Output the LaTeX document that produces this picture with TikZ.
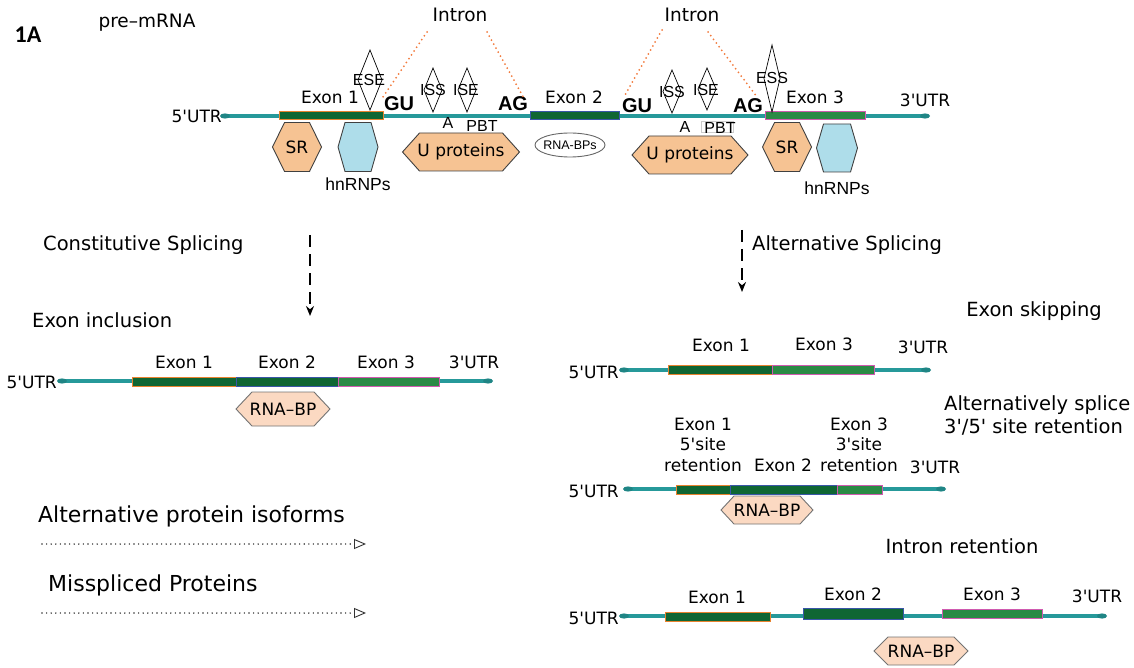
\documentclass[tikz,border=0pt]{standalone}
\usepackage{fontspec}
\setmainfont{DejaVu Sans}
\newfontfamily\arialf{Liberation Sans}
\newfontfamily\calf{Carlito}
\usetikzlibrary{arrows.meta}

\definecolor{rna}{HTML}{26999A}
\definecolor{rnaend}{HTML}{1F8585}
\definecolor{exdark}{HTML}{0F6633}
\definecolor{exlight}{HTML}{2A8A45}
\definecolor{bdorange}{HTML}{E8822E}
\definecolor{bdblue}{HTML}{3A56A8}
\definecolor{bdpink}{HTML}{D05AB0}
\definecolor{peach}{HTML}{F6C393}
\definecolor{peachlt}{HTML}{FBD9C2}
\definecolor{skyb}{HTML}{AEDDEA}
\definecolor{intronor}{HTML}{F27A3C}

% straight apostrophe for the UTR labels
\newcommand\ap{\textquotesingle}

% exon bar: x1, x2, ytop, ybottom, fill, edge colour
\newcommand\exonbar[6]{\draw[draw=#6, fill=#5, line width=1pt] (#1,#3) rectangle (#2,#4);}

% hexagon pointed left and right: name, cx, cy, half width, half height, inset, style
\newcommand\hexshape[7]{%
  \draw[#7] (#2-#4,#3) -- (#2-#4+#6,#3-#5) -- (#2+#4-#6,#3-#5) -- (#2+#4,#3)
    -- (#2+#4-#6,#3+#5) -- (#2-#4+#6,#3+#5) -- cycle;
  \coordinate (#1) at (#2,#3);}

% diamond: name, cx, top, bottom, half width
\newcommand\diamondmark[5]{%
  \draw[line width=0.7pt] (#2,#3) -- (#2+#5,{(#3+#4)/2}) -- (#2,#4) -- (#2-#5,{(#3+#4)/2}) -- cycle;
  \coordinate (#1) at (#2,{(#3+#4)/2});}

% RNA strand with oval ends: name prefix, x1, x2, y
\newcommand\strand[4]{%
  \coordinate (#1a) at (#2,#4); \coordinate (#1b) at (#3,#4);
  \draw[draw=rna, line width=3.5pt] (#1a) -- (#1b);
  \fill[rnaend] (#1a) ellipse (5 and 2.6);
  \fill[rnaend] (#1b) ellipse (5 and 2.6);}

\begin{document}
\begin{tikzpicture}[x=1pt,y=-1pt,
  txt/.style={inner sep=0pt, font=\fontsize{17}{20}\selectfont},
  head/.style={inner sep=0pt, font=\fontsize{19.5}{23}\selectfont},
  iso/.style={inner sep=0pt, anchor=west, font=\fontsize{22}{26}\selectfont},
  ar/.style={inner sep=0pt, font=\arialf\fontsize{16}{19}\selectfont},
  arb/.style={inner sep=0pt, font=\arialf\bfseries\fontsize{20}{24}\selectfont},
  bp/.style={inner sep=0pt, font=\fontsize{17}{20}\selectfont},
  dotline/.style={draw=intronor, line width=2pt, dash pattern=on 0pt off 4.6pt, line cap=round},
  protA/.style={draw=black!75, fill=peach, line width=0.9pt},
  protB/.style={draw=black!75, fill=skyb, line width=0.9pt},
  protC/.style={draw=black!55, fill=peachlt, line width=0.9pt},
  dasharrow/.style={line width=2pt, dash pattern=on 12pt off 7pt, -{Stealth[length=10pt,width=8pt]}},
  isoarrow/.style={draw=black!80, line width=1.6pt, dash pattern=on 0pt off 4.6pt, line cap=round, -{Triangle[open,length=12pt,width=10pt,line width=0.9pt]}},
]
\useasboundingbox (0,0) rectangle (1134,668);

% ---------- title ----------
\node[inner sep=0pt, font=\calf\bfseries\fontsize{24}{28}\selectfont] (fig) at (28,35) {1A};
\node[inner sep=0pt, font=\fontsize{18.5}{22}\selectfont] (pre) at (147,23) {pre–mRNA};

% ---------- pre-mRNA ----------
\strand{p}{225}{925}{116}
\exonbar{279}{383}{112}{120}{exdark}{bdorange}
\exonbar{530}{619}{112}{120}{exdark}{bdblue}
\exonbar{765}{865}{112}{120}{exlight}{bdpink}
\node[txt] (pe1) at (330,97) {Exon 1};
\node[txt] (pe2) at (574,97) {Exon 2};
\node[txt] (pe3) at (815,97) {Exon 3};
\node[txt, anchor=east] (p5) at (222,116) {5\ap UTR};
\node[txt] (p3) at (925,100) {3\ap UTR};

% regulatory elements
\diamondmark{ese}{370}{50}{110}{12}
\diamondmark{iss1}{433}{68}{112}{9}
\diamondmark{ise1}{467}{68}{112}{9}
\diamondmark{iss2}{672}{70}{113}{9}
\diamondmark{ise2}{707}{68}{110}{9}
\diamondmark{ess}{772}{45}{112}{8}
\node[ar] at (369,80) {ESE};
\node[ar] at (433,90) {ISS};
\node[ar] at (466,90) {ISE};
\node[ar] at (672,92) {ISS};
\node[ar] at (706,90) {ISE};
\node[ar] at (772,78) {ESS};

\node[arb] (gu1) at (399,104) {GU};
\node[arb] (ag1) at (513,104) {AG};
\node[arb] (gu2) at (637,106) {GU};
\node[arb] (ag2) at (748,106) {AG};
\node[ar] (bpa1) at (448,123) {A};
\node[ar] (pbt1) at (482,126) {PBT};
\draw[black!20, line width=0.8pt] (701,121) rectangle (733,132);
\node[ar] (bpa2) at (685,127) {A};
\node[ar] (pbt2) at (720,128) {PBT};

% introns
\node[head, font=\fontsize{18.5}{22}\selectfont] (in1) at (460,15) {Intron};
\node[head, font=\fontsize{18.5}{22}\selectfont] (in2) at (692,15) {Intron};
\coordinate (i1a) at (427,32); \coordinate (i1b) at (383,97);
\coordinate (i1c) at (487,32); \coordinate (i1d) at (525,100);
\coordinate (i2a) at (662,30); \coordinate (i2b) at (625,95);
\coordinate (i2c) at (708,32); \coordinate (i2d) at (757,97);
\draw[dotline] (i1a) -- (i1b);
\draw[dotline] (i1c) -- (i1d);
\draw[dotline] (i2a) -- (i2b);
\draw[dotline] (i2c) -- (i2d);

% binding proteins
\hexshape{sr1}{297}{147}{24.5}{24.5}{12}{protA}
\hexshape{hn1}{358}{147}{20}{24.5}{7}{protB}
\hexshape{up1}{461}{152}{58.5}{19}{17}{protA}
\hexshape{up2}{690}{155}{58}{19}{17}{protA}
\hexshape{sr2}{787}{147}{24.5}{24.5}{12}{protA}
\hexshape{hn2}{837}{148}{20.5}{24}{7}{protB}
\node[txt] at (sr1) {SR};
\node[txt] at (sr2) {SR};
\node[txt] at (up1) {U proteins};
\node[txt] at (up2) {U proteins};
\node[ar, font=\arialf\fontsize{17.5}{20}\selectfont] (hnl1) at (358,184) {hnRNPs};
\node[ar, font=\arialf\fontsize{17.5}{20}\selectfont] (hnl2) at (837,188) {hnRNPs};
\draw[black!60, line width=0.9pt] (570,145) ellipse (35 and 12);
\node[ar, font=\arialf\fontsize{12.5}{15}\selectfont] (rbps) at (570,145) {RNA-BPs};

% ---------- splicing branches ----------
\node[head, anchor=west] (cons) at (43,245) {Constitutive Splicing};
\node[head, anchor=west] (alts) at (752,245) {Alternative Splicing};
\coordinate (c1) at (310,235); \coordinate (c2) at (310,316);
\coordinate (a1) at (742,230); \coordinate (a2) at (742,292);
\draw[dasharrow] (c1) -- (c2);
\draw[dasharrow] (a1) -- (a2);

% ---------- exon inclusion ----------
\node[head, anchor=west] (incl) at (32,320) {Exon inclusion};
\strand{l}{62}{488}{381}
\exonbar{132}{236}{377}{386}{exdark}{bdorange}
\exonbar{236}{338}{377}{386}{exdark}{bdblue}
\exonbar{338}{439}{377}{386}{exlight}{bdpink}
\node[txt] at (184,362) {Exon 1};
\node[txt] at (287,362) {Exon 2};
\node[txt] at (386,362) {Exon 3};
\node[txt] at (474,362) {3\ap UTR};
\node[txt, anchor=east] at (57,382) {5\ap UTR};
\hexshape{rb1}{283}{409}{47}{17}{16}{protC}
\node[bp] at (rb1) {RNA–BP};

% ---------- exon skipping ----------
\node[head] (skip) at (1034,311) {Exon skipping};
\strand{s}{624}{926}{370}
\exonbar{668}{772}{365}{374}{exdark}{bdorange}
\exonbar{772}{874}{365}{374}{exlight}{bdpink}
\node[txt] at (721,345) {Exon 1};
\node[txt] at (824,344) {Exon 3};
\node[txt] at (923,347) {3\ap UTR};
\node[txt, anchor=east] at (619,372) {5\ap UTR};

% ---------- 3'/5' site retention ----------
\node[head, anchor=west] (altsp) at (944,405) {Alternatively splice};
\node[head, anchor=west] (altsp2) at (944,427) {3\ap/5\ap\ site retention};
\strand{r}{628}{941}{489}
\exonbar{676}{730}{485}{494}{exdark}{bdorange}
\exonbar{730}{837}{485}{494}{exdark}{bdblue}
\exonbar{837}{882}{485}{494}{exlight}{bdpink}
\node[txt] at (703,424) {Exon 1};
\node[txt] at (703,444) {5\ap site};
\node[txt] at (703,465) {retention};
\node[txt] at (783,465) {Exon 2};
\node[txt] at (859,424) {Exon 3};
\node[txt] at (859,444) {3\ap site};
\node[txt] at (859,465) {retention};
\node[txt] at (935,467) {3\ap UTR};
\node[txt, anchor=east] at (619,491) {5\ap UTR};
\hexshape{rb2}{767}{510}{46}{14}{13}{protC}
\node[bp] at (rb2) {RNA–BP};

% ---------- intron retention ----------
\node[head] (intr) at (962,546) {Intron retention};
\strand{t}{624}{1102}{616}
\exonbar{665}{770}{612}{621}{exdark}{bdorange}
\exonbar{803}{903}{608}{619}{exdark}{bdblue}
\exonbar{942}{1042}{609}{618}{exlight}{bdpink}
\node[txt] at (717,597) {Exon 1};
\node[txt] at (853,594) {Exon 2};
\node[txt] at (992,594) {Exon 3};
\node[txt] at (1097,596) {3\ap UTR};
\node[txt, anchor=east] at (619,618) {5\ap UTR};
\hexshape{rb3}{921}{651}{47}{14}{14}{protC}
\node[bp] at (rb3) {RNA–BP};

% ---------- outcomes ----------
\node[iso] (isof) at (38,516) {Alternative protein isoforms};
\node[iso] (misp) at (48,585) {Misspliced Proteins};
\coordinate (o1a) at (42,544); \coordinate (o1b) at (366,544);
\coordinate (o2a) at (42,613); \coordinate (o2b) at (366,613);
\draw[isoarrow] (o1a) -- (o1b);
\draw[isoarrow] (o2a) -- (o2b);
\end{tikzpicture}
\end{document}
